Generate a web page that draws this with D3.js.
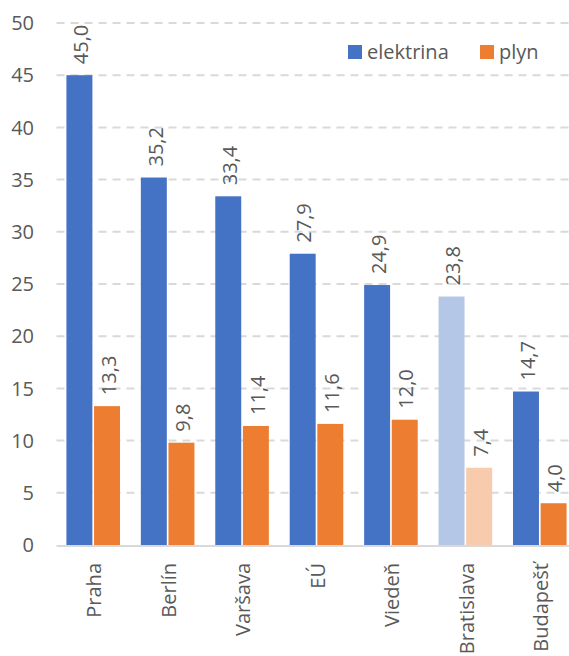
<!DOCTYPE html>
<html>
<head>
<meta charset="utf-8">
<script src="https://cdn.jsdelivr.net/npm/d3@7"></script>
<style>
  body { margin: 0; background: #fff; }
  svg { display: block; font-family: "Open Sans", sans-serif; }
</style>
</head>
<body>
<div id="chart"></div>
<script>
const cities = ["Praha", "Berlín", "Varšava", "EÚ", "Viedeň", "Bratislava", "Budapešť"];
const elektrina = [45.0, 35.2, 33.4, 27.9, 24.9, 23.8, 14.7];
const plyn = [13.3, 9.8, 11.4, 11.6, 12.0, 7.4, 4.0];
const yTicks = [0, 5, 10, 15, 20, 25, 30, 35, 40, 45, 50];
const seriesNames = ["elektrina", "plyn"];

const W = 569, H = 656;
const colors = { elektrina: "#4472C4", plyn: "#ED7D31" };
const paleColors = { elektrina: "#B4C7E7", plyn: "#F8CBAD" };
const highlight = "Bratislava";
const textColor = "#595959";
const fontSize = 20;

const svg = d3.select("#chart").append("svg")
  .attr("width", W)
  .attr("height", H);

const x = d3.scaleBand()
  .domain(cities)
  .range([56, 577])
  .paddingInner(0.28)
  .paddingOuter(0.14);

const x1 = d3.scaleBand()
  .domain(seriesNames)
  .range([0, x.bandwidth()])
  .paddingInner(0.06);

const y = d3.scaleLinear()
  .domain([0, 50])
  .range([545, 23]);

// gridlines
svg.append("g")
  .selectAll("line")
  .data(yTicks.filter(d => d > 0))
  .join("line")
  .attr("x1", 56.5)
  .attr("x2", W)
  .attr("y1", d => y(d))
  .attr("y2", d => y(d))
  .attr("stroke", "#d9d9d9")
  .attr("stroke-width", 2)
  .attr("stroke-dasharray", "8,6");

// y tick labels
svg.append("g")
  .selectAll("text")
  .data(yTicks)
  .join("text")
  .attr("x", 34)
  .attr("y", d => y(d))
  .attr("dy", "0.36em")
  .attr("text-anchor", "end")
  .attr("font-size", fontSize)
  .attr("fill", textColor)
  .text(d => d);

const rows = cities.map((c, i) => ({ city: c, elektrina: elektrina[i], plyn: plyn[i] }));

const groups = svg.append("g")
  .selectAll("g")
  .data(rows)
  .join("g")
  .attr("transform", d => `translate(${x(d.city)},0)`);

const cells = groups.selectAll("g")
  .data(d => seriesNames.map(s => ({ city: d.city, key: s, value: d[s] })))
  .join("g");

cells.append("rect")
  .attr("x", d => x1(d.key))
  .attr("y", d => y(d.value))
  .attr("width", x1.bandwidth())
  .attr("height", d => y(0) - y(d.value))
  .attr("fill", d => d.city === highlight ? paleColors[d.key] : colors[d.key]);

const fmt = v => d3.format(".1f")(v).replace(".", ",");

cells.append("text")
  .attr("transform", d => {
    const cx = x1(d.key) + x1.bandwidth() / 2 + 1.5;
    const cy = y(d.value) - 11;
    return `translate(${cx},${cy}) rotate(-90)`;
  })
  .attr("dy", "0.36em")
  .attr("text-anchor", "start")
  .attr("font-size", fontSize)
  .attr("fill", textColor)
  .text(d => fmt(d.value));

// baseline
svg.append("line")
  .attr("x1", 56.5)
  .attr("x2", W)
  .attr("y1", y(0) + 1)
  .attr("y2", y(0) + 1)
  .attr("stroke", "#d9d9d9")
  .attr("stroke-width", 2);

// x labels
svg.append("g")
  .selectAll("text")
  .data(cities)
  .join("text")
  .attr("transform", d => `translate(${x(d) + x.bandwidth() / 2 + 1},563) rotate(-90)`)
  .attr("dy", "0.36em")
  .attr("text-anchor", "end")
  .attr("font-size", fontSize)
  .attr("fill", textColor)
  .text(d => d);

// legend
const legend = svg.append("g");
const legendItems = [
  { key: "elektrina", x: 348 },
  { key: "plyn", x: 480 }
];
legend.selectAll("rect")
  .data(legendItems)
  .join("rect")
  .attr("x", d => d.x)
  .attr("y", 45)
  .attr("width", 14)
  .attr("height", 14)
  .attr("fill", d => colors[d.key]);
legend.selectAll("text")
  .data(legendItems)
  .join("text")
  .attr("x", d => d.x + 19)
  .attr("y", 52)
  .attr("dy", "0.36em")
  .attr("font-size", fontSize)
  .attr("fill", textColor)
  .text(d => d.key);
</script>
</body>
</html>
